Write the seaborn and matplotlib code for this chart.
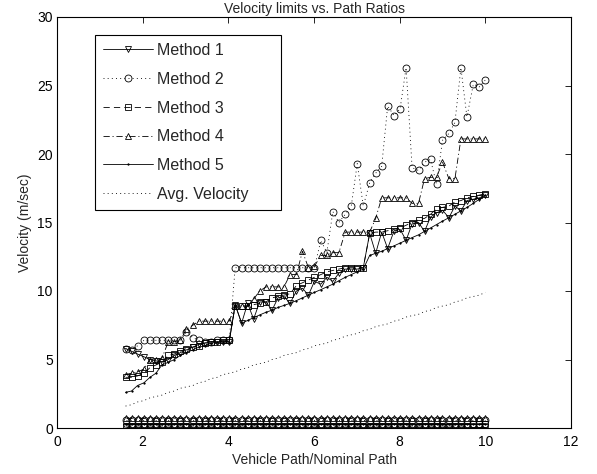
import matplotlib
matplotlib.use("Agg")
import matplotlib.pyplot as plt
from matplotlib.lines import Line2D
from matplotlib.patches import Rectangle
import seaborn as sns
import pandas as pd

# ---------------- data ----------------
x = [1.60, 1.74, 1.88, 2.03, 2.17, 2.31, 2.45, 2.60, 2.74, 2.88,
     3.02, 3.17, 3.31, 3.45, 3.59, 3.74, 3.88, 4.02, 4.16, 4.31,
     4.45, 4.59, 4.73, 4.88, 5.02, 5.16, 5.30, 5.44, 5.59, 5.73,
     5.87, 6.01, 6.16, 6.30, 6.44, 6.58, 6.73, 6.87, 7.01, 7.15,
     7.30, 7.44, 7.58, 7.72, 7.87, 8.01, 8.15, 8.29, 8.44, 8.58,
     8.72, 8.86, 9.00, 9.15, 9.29, 9.43, 9.57, 9.72, 9.86, 10.00]

method1 = [5.8, 5.6, 5.4, 5.2, 5.0, 4.9, 4.8, 5.0, 5.3, 5.5,
           5.7, 5.9, 6.1, 6.2, 6.3, 6.3, 6.3, 6.3, 9.0, 7.65,
           9.1, 7.95, 9.2, 9.2, 8.6, 9.5, 9.6, 9.1, 10.0, 10.2,
           9.7, 10.7, 10.5, 11.0, 10.7, 11.3, 11.6, 11.6, 11.6, 11.7,
           14.2, 12.75, 14.3, 13.1, 14.4, 14.5, 13.7, 14.9, 15.0, 14.35,
           15.4, 15.7, 15.9, 15.35, 16.2, 15.85, 16.6, 16.7, 16.8, 17.0]

method2 = [5.8, 5.7, 6.0, 6.4, 6.4, 6.4, 6.4, 6.4, 6.4, 6.4,
           7.0, 6.6, 6.4, 6.3, 6.3, 6.4, 6.4, 6.4, 11.7, 11.7,
           11.7, 11.7, 11.7, 11.7, 11.7, 11.7, 11.7, 11.7, 11.7, 11.7,
           11.7, 11.7, 13.7, 12.8, 15.8, 15.0, 15.6, 16.2, 19.3, 16.2,
           17.9, 18.6, 19.1, 23.5, 22.8, 23.3, 26.3, 19.0, 18.8, 19.4,
           19.6, 17.8, 21.0, 21.5, 22.3, 26.3, 22.7, 25.1, 24.9, 25.4]

method3 = [3.7, 3.7, 3.8, 4.0, 4.4, 4.6, 4.8, 5.3, 5.4, 5.6,
           5.8, 5.9, 6.0, 6.2, 6.3, 6.3, 6.4, 6.4, 8.9, 8.9,
           8.9, 9.0, 9.1, 9.2, 9.5, 9.6, 9.7, 9.8, 10.4, 10.6,
           10.8, 11.0, 11.2, 11.4, 11.5, 11.6, 11.7, 11.7, 11.7, 11.7,
           14.2, 14.3, 14.3, 14.4, 14.5, 14.6, 14.8, 15.0, 15.2, 15.3,
           15.6, 16.0, 16.1, 16.2, 16.5, 16.6, 16.8, 16.9, 17.0, 17.1]

method4 = [3.9, 4.0, 4.1, 4.3, 5.0, 5.0, 5.1, 6.3, 6.3, 6.4,
           7.2, 7.5, 7.8, 7.8, 7.8, 7.8, 7.8, 7.8, 8.9, 8.9,
           8.9, 9.4, 10.0, 10.3, 10.3, 10.3, 10.3, 11.2, 11.2, 12.9,
           11.7, 11.8, 12.6, 12.6, 12.8, 12.8, 14.3, 14.3, 14.3, 14.3,
           14.3, 15.3, 16.8, 16.8, 16.8, 16.8, 16.8, 16.4, 16.4, 18.2,
           18.3, 18.3, 19.4, 18.2, 18.2, 21.1, 21.1, 21.1, 21.1, 21.1]

method5 = [2.6, 2.7, 3.1, 3.3, 3.7, 4.0, 4.6, 4.8, 5.0, 5.3,
           5.5, 5.7, 5.9, 6.0, 6.2, 6.25, 6.3, 6.3, 9.0, 7.65,
           7.85, 8.05, 8.25, 8.45, 8.6, 8.8, 8.95, 9.1, 9.3, 9.5,
           9.7, 9.9, 10.1, 10.3, 10.5, 10.75, 11.0, 11.2, 11.4, 11.6,
           12.6, 12.75, 12.9, 13.1, 13.3, 13.5, 13.7, 13.9, 14.1, 14.35,
           14.6, 14.85, 15.1, 15.35, 15.6, 15.85, 16.1, 16.4, 16.7, 17.0]

avg_velocity = [1.6, 1.7, 1.9, 2.0, 2.2, 2.3, 2.4, 2.6, 2.7, 2.9,
                3.0, 3.1, 3.3, 3.4, 3.6, 3.7, 3.9, 4.0, 4.1, 4.3,
                4.4, 4.6, 4.7, 4.8, 5.0, 5.1, 5.3, 5.4, 5.5, 5.7,
                5.8, 6.0, 6.1, 6.2, 6.4, 6.5, 6.7, 6.8, 6.9, 7.1,
                7.2, 7.4, 7.5, 7.6, 7.8, 7.9, 8.1, 8.2, 8.3, 8.5,
                8.6, 8.8, 8.9, 9.0, 9.2, 9.3, 9.5, 9.6, 9.7, 9.9]

# second (near-zero) group of curves drawn with the same styles
low1 = [0.05, 0.05, 0.05, 0.05, 0.05, 0.05, 0.05, 0.05, 0.05, 0.05,
        0.05, 0.05, 0.05, 0.05, 0.05, 0.05, 0.05, 0.05, 0.05, 0.05,
        0.05, 0.05, 0.05, 0.05, 0.05, 0.05, 0.05, 0.05, 0.05, 0.05,
        0.05, 0.05, 0.05, 0.05, 0.05, 0.05, 0.05, 0.05, 0.05, 0.05,
        0.05, 0.05, 0.05, 0.05, 0.05, 0.05, 0.05, 0.05, 0.05, 0.05,
        0.05, 0.05, 0.05, 0.05, 0.05, 0.05, 0.05, 0.05, 0.05, 0.05]
low2 = [0.62, 0.62, 0.62, 0.62, 0.62, 0.62, 0.62, 0.62, 0.62, 0.62,
        0.62, 0.62, 0.62, 0.62, 0.62, 0.62, 0.62, 0.62, 0.62, 0.62,
        0.62, 0.62, 0.62, 0.62, 0.62, 0.62, 0.62, 0.62, 0.62, 0.62,
        0.62, 0.62, 0.62, 0.62, 0.62, 0.62, 0.62, 0.62, 0.62, 0.62,
        0.62, 0.62, 0.62, 0.62, 0.62, 0.62, 0.62, 0.62, 0.62, 0.62,
        0.62, 0.62, 0.62, 0.62, 0.62, 0.62, 0.62, 0.62, 0.62, 0.62]
low3 = [0.15, 0.15, 0.15, 0.15, 0.15, 0.15, 0.15, 0.15, 0.15, 0.15,
        0.15, 0.15, 0.15, 0.15, 0.15, 0.15, 0.15, 0.15, 0.15, 0.15,
        0.15, 0.15, 0.15, 0.15, 0.15, 0.15, 0.15, 0.15, 0.15, 0.15,
        0.15, 0.15, 0.15, 0.15, 0.15, 0.15, 0.15, 0.15, 0.15, 0.15,
        0.15, 0.15, 0.15, 0.15, 0.15, 0.15, 0.15, 0.15, 0.15, 0.15,
        0.15, 0.15, 0.15, 0.15, 0.15, 0.15, 0.15, 0.3, 0.3, 0.3]
low4 = [0.72, 0.72, 0.72, 0.72, 0.72, 0.72, 0.72, 0.72, 0.72, 0.72,
        0.72, 0.72, 0.72, 0.72, 0.72, 0.72, 0.72, 0.72, 0.72, 0.72,
        0.72, 0.72, 0.72, 0.72, 0.72, 0.72, 0.72, 0.72, 0.72, 0.72,
        0.72, 0.72, 0.72, 0.72, 0.72, 0.72, 0.72, 0.72, 0.72, 0.72,
        0.72, 0.72, 0.72, 0.72, 0.72, 0.72, 0.72, 0.72, 0.72, 0.72,
        0.72, 0.72, 0.72, 0.72, 0.72, 0.72, 0.72, 0.72, 0.72, 0.72]
low5 = [0.28, 0.28, 0.28, 0.28, 0.28, 0.28, 0.28, 0.28, 0.28, 0.28,
        0.28, 0.28, 0.28, 0.28, 0.28, 0.28, 0.28, 0.28, 0.28, 0.28,
        0.28, 0.28, 0.28, 0.28, 0.28, 0.28, 0.28, 0.28, 0.28, 0.28,
        0.28, 0.28, 0.28, 0.28, 0.28, 0.28, 0.28, 0.28, 0.28, 0.28,
        0.28, 0.28, 0.28, 0.28, 0.28, 0.28, 0.28, 0.28, 0.28, 0.28,
        0.28, 0.28, 0.28, 0.28, 0.28, 0.28, 0.28, 0.28, 0.28, 0.28]

labels = ["Method 1", "Method 2", "Method 3", "Method 4", "Method 5", "Avg. Velocity"]
x_ticks = [0, 2, 4, 6, 8, 10, 12]
y_ticks = [0, 5, 10, 15, 20, 25, 30]

# ---------------- styling ----------------
sns.set_theme(style="white")
plt.rcParams["font.family"] = ["Liberation Sans", "DejaVu Sans"]
plt.rcParams["lines.scale_dashes"] = False

DOT = (0, (0.7, 2.3))
DASH = (0, (4.5, 3.0))
DASHDOT = (0, (4.5, 2.0, 0.8, 2.0))
styles = {
    "Method 1": dict(ls="-", marker="v", ms=5.0, mfc="none"),
    "Method 2": dict(ls=DOT, marker="o", ms=5.0, mfc="none"),
    "Method 3": dict(ls=DASH, marker="s", ms=4.6, mfc="none"),
    "Method 4": dict(ls=DASHDOT, marker="^", ms=5.0, mfc="none"),
    "Method 5": dict(ls="-", marker=".", ms=2.0, mfc="black"),
    "Avg. Velocity": dict(ls=DOT, marker=None, ms=0, mfc="none"),
}

fig = plt.figure(figsize=(5.97, 4.74), dpi=100)
W, H = 597, 474
L, R, T, B = 57, 571, 17, 428
ax = fig.add_axes([L / W, 1 - B / H, (R - L) / W, (B - T) / H])

series = [("Method 1", method1), ("Method 2", method2), ("Method 3", method3),
          ("Method 4", method4), ("Method 5", method5), ("Avg. Velocity", avg_velocity),
          ("Method 1", low1), ("Method 2", low2), ("Method 3", low3),
          ("Method 4", low4), ("Method 5", low5)]

for name, vals in series:
    st = styles[name]
    df = pd.DataFrame({"x": x, "y": vals})
    kw = dict(color="black", linewidth=0.6, linestyle=st["ls"])
    if st["marker"]:
        kw.update(marker=st["marker"], markersize=st["ms"], markerfacecolor=st["mfc"],
                  markeredgecolor="black", markeredgewidth=0.6)
    sns.lineplot(data=df, x="x", y="y", ax=ax, sort=False, estimator=None,
                 errorbar=None, legend=False, **kw)

ax.set_xlim(0, 12)
ax.set_ylim(0, 30)
ax.set_xticks(x_ticks)
ax.set_yticks(y_ticks)
ax.tick_params(direction="in", top=True, right=True, length=4, width=0.6,
               labelsize=10, colors="black")
ax.tick_params(axis="x", pad=5)
ax.tick_params(axis="y", pad=3)
for s in ax.spines.values():
    s.set_visible(True)
    s.set_color("black")
    s.set_linewidth(0.8)
ax.set_xlabel("Vehicle Path/Nominal Path", fontsize=10, labelpad=3)
ax.set_ylabel("Velocity (m/sec)", fontsize=10, labelpad=4)
ax.set_title("Velocity limits vs. Path Ratios", fontsize=10, pad=3)

handles = []
for name in labels:
    st = styles[name]
    handles.append(Line2D([], [], color="black", linewidth=0.6, linestyle=st["ls"],
                          marker=st["marker"], markersize=st["ms"] if name != "Method 5" else 2.0,
                          markerfacecolor=st["mfc"], markeredgecolor="black",
                          markeredgewidth=0.6))
leg = ax.legend(handles, labels, loc="upper left", bbox_to_anchor=(0.074, 0.956),
                frameon=False, fontsize=11.5, handlelength=3.1, handletextpad=0.3,
                labelspacing=0.86, borderpad=0.5, numpoints=1, borderaxespad=0)
leg.set_zorder(6)

# MATLAB-style legend box (extra space on the right of the labels)
fig.canvas.draw()
bb = leg.get_window_extent()
box_right = 281
rect = Rectangle((bb.x0 / W, bb.y0 / H), (box_right - bb.x0) / W, (bb.y1 - bb.y0) / H,
                 transform=fig.transFigure, facecolor="white", edgecolor="black",
                 linewidth=0.8, zorder=5)
ax.add_artist(rect)
rect.set_clip_on(False)

fig.savefig("out.png", dpi=100)
